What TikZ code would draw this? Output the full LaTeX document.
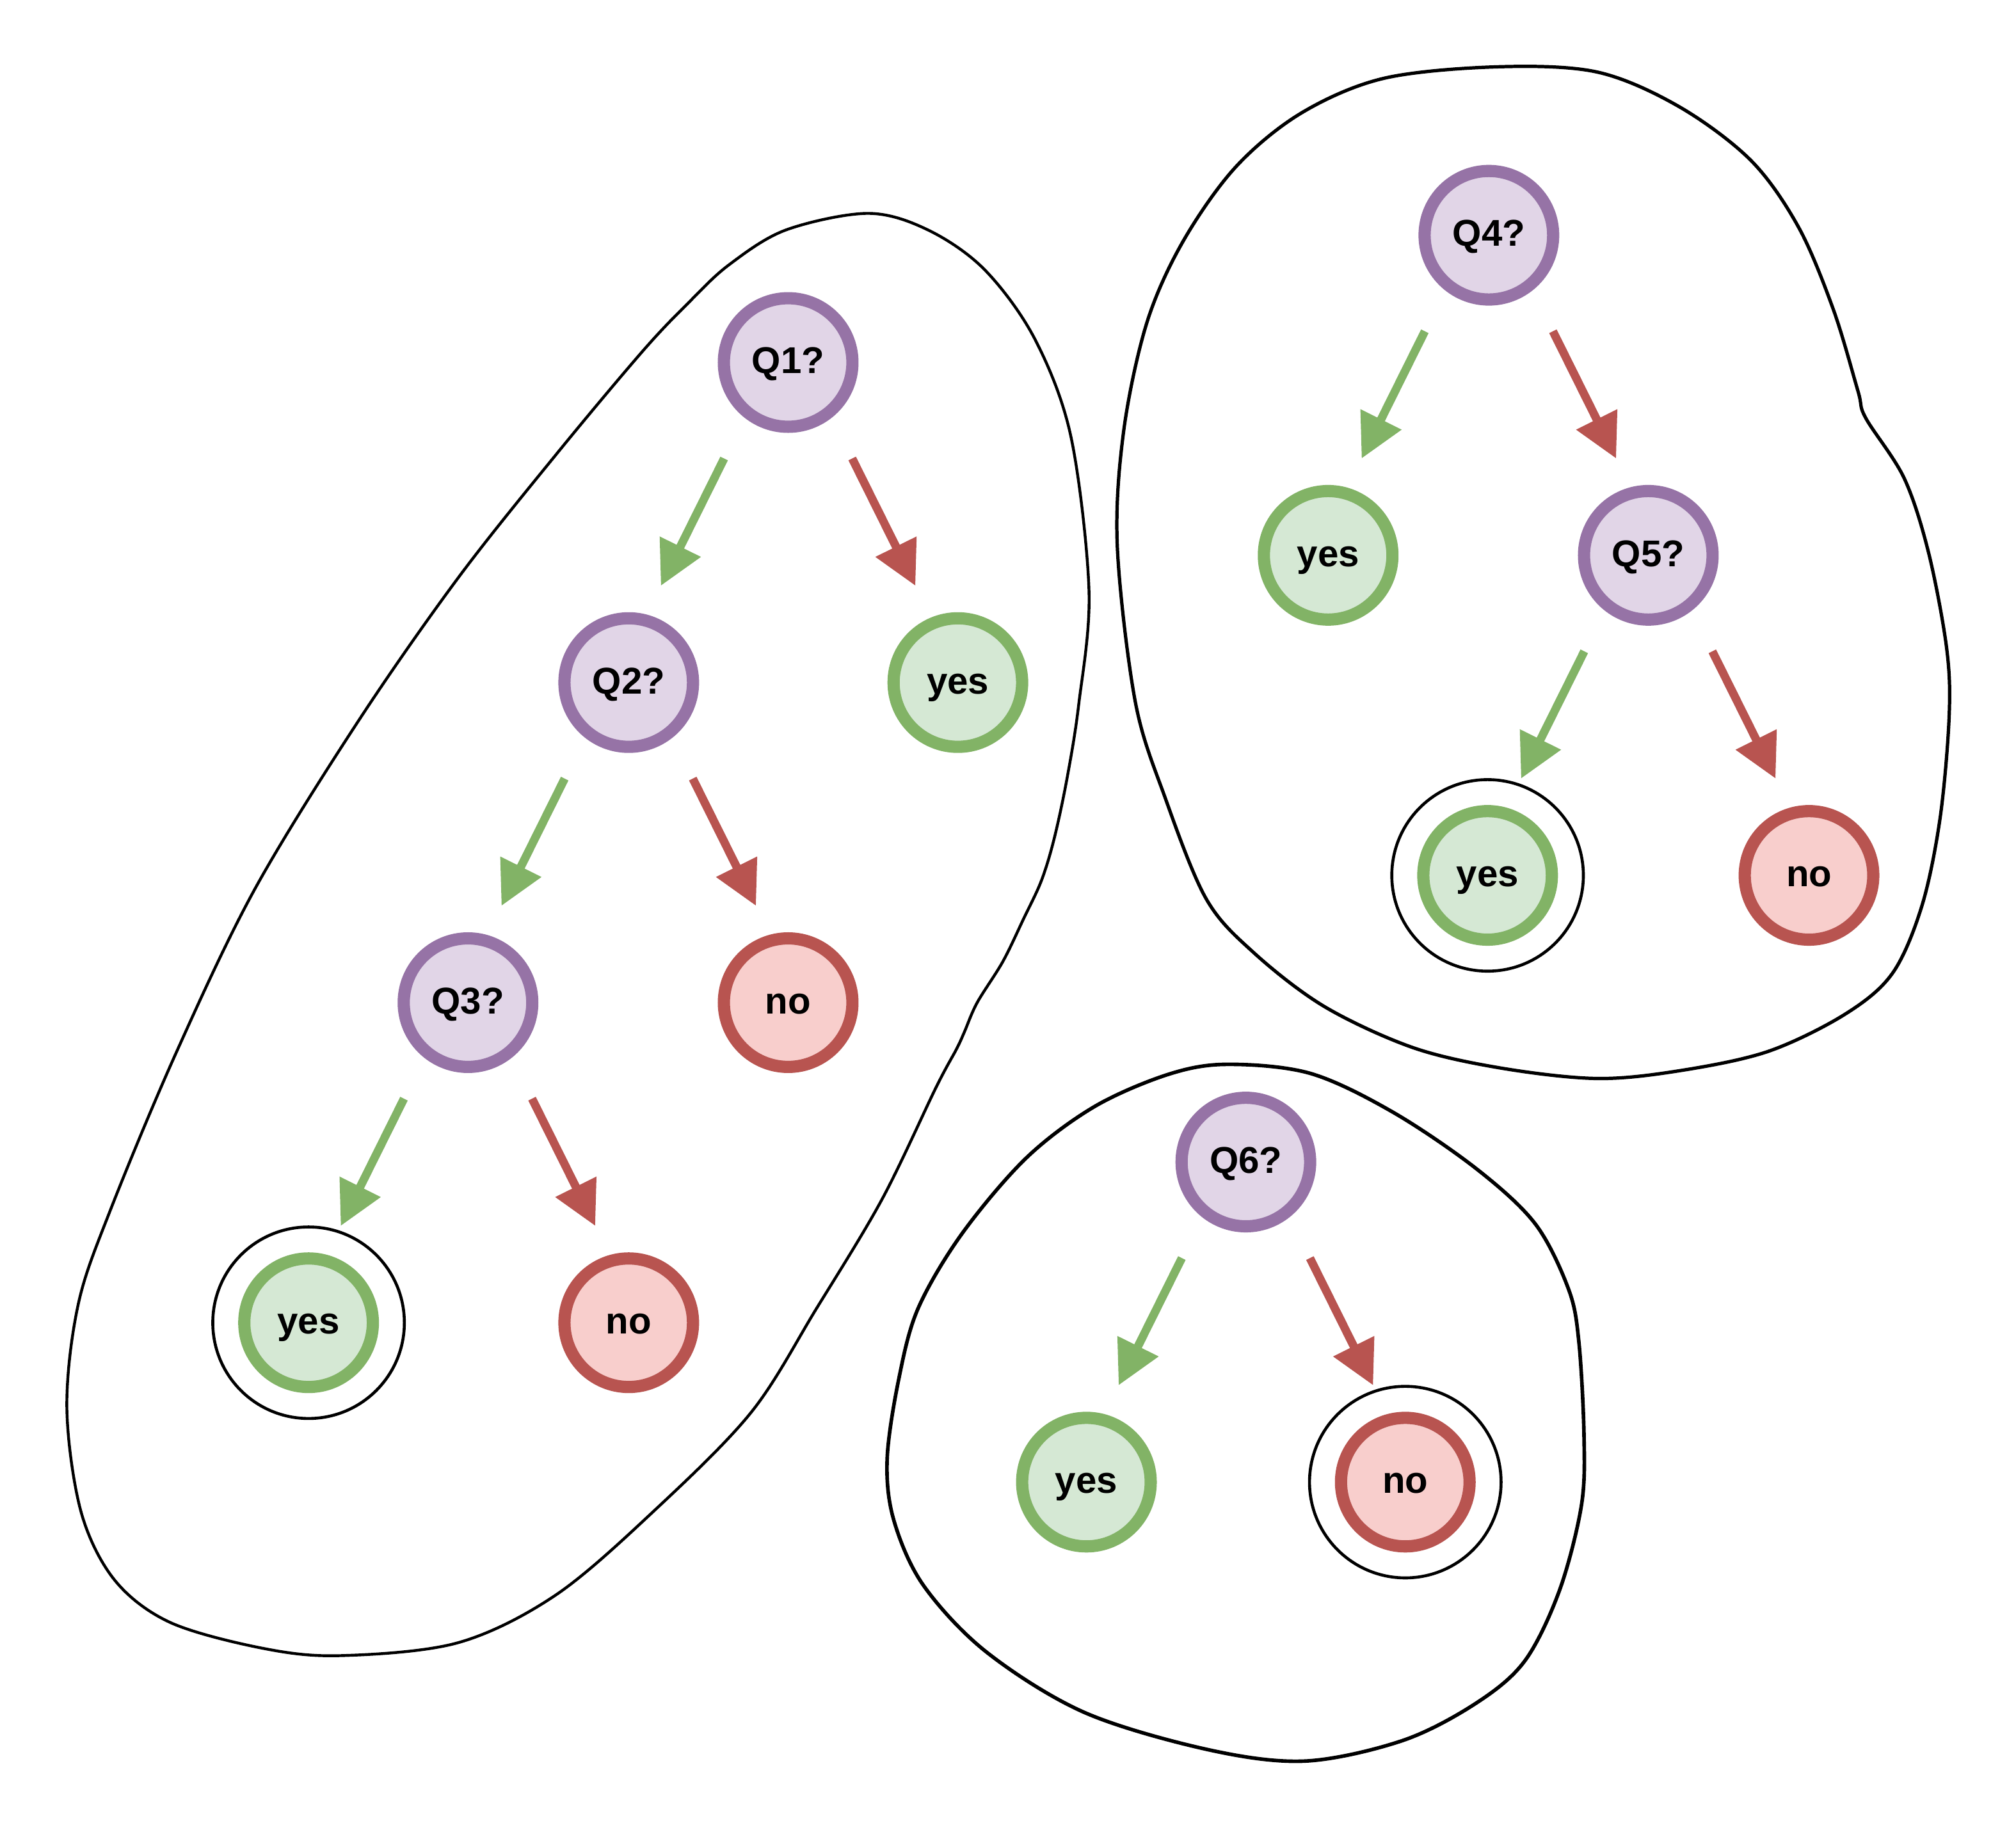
\documentclass[tikz,border=0pt]{standalone}
\usepackage{fontspec}
\setmainfont{Liberation Sans}
\usetikzlibrary{arrows.meta,calc}
\definecolor{qline}{HTML}{9673A6}
\definecolor{qfill}{HTML}{E1D5E7}
\definecolor{yline}{HTML}{82B366}
\definecolor{yfill}{HTML}{D5E8D4}
\definecolor{nline}{HTML}{B85450}
\definecolor{nfill}{HTML}{F8CECC}
\begin{document}
\begin{tikzpicture}[x=1pt,y=-1pt,
  state/.style={circle, minimum size=100pt, inner sep=0pt, line width=9.5pt,
    font=\fontsize{29}{34}\selectfont\bfseries, text height=23pt, text depth=5.8pt},
  qnode/.style={state, draw=qline, fill=qfill},
  ynode/.style={state, draw=yline, fill=yfill},
  nnode/.style={state, draw=nline, fill=nfill},
  ring/.style={circle, draw=black, line width=2.3pt, minimum size=149pt, inner sep=0pt},
  yarr/.style={draw=yline, fill=yline, line width=6.5pt, -{Triangle[length=34pt,width=34pt]}},
  narr/.style={draw=nline, fill=nline, line width=6.5pt, -{Triangle[length=34pt,width=34pt]}},
  blob/.style={draw=black, line join=round}
]
\useasboundingbox (0,0) rectangle (1568,1423.6);

% outlines
\draw[blob, line width=2.2pt] plot[smooth cycle, tension=0.55] coordinates {
 (675,166) (722,179) (766,210) (805,264) (833,340) (847,460) (839,548) (830,605)
 (820,652) (810,685) (796,715) (780,748) (760,780) (750,803) (744,816) (728,846)
 (686,933) (635,1018) (584,1099) (508,1176)
 (432,1241) (356,1278) (264,1288) (203,1282) (132,1262) (89,1229) (63,1176) (52,1095)
 (61,1014) (86,941) (137,819) (198,692) (278,562) (356,450) (433,353) (500,273)
 (536,235) (567,206) (611,179)};
\draw[blob, line width=2.6pt] plot[smooth cycle, tension=0.55] coordinates {
 (1164,52) (1242,56) (1306,83) (1362,125) (1399,177) (1426,241) (1445,304) (1451,325)
 (1481,372) (1500,430) (1514,504) (1516,557) (1509,636) (1495,704) (1472,757) (1435,789)
 (1375,818) (1306,833) (1242,839) (1168,831) (1099,815) (1030,783) (975,741) (938,699)
 (906,620) (883,546) (869,425) (874,335) (892,251) (920,188) (961,130) (1012,88) (1076,61)};
\draw[blob, line width=2.8pt] plot[smooth cycle, tension=0.55] coordinates {
 (954,828) (1019,835) (1083,865) (1148,909) (1194,952) (1220,1003) (1228,1044) (1232,1117)
 (1230,1171) (1213,1237) (1186,1292) (1148,1325) (1091,1354) (1015,1370) (939,1361) (843,1332)
 (767,1285) (718,1233) (695,1182) (690,1135) (699,1073) (714,1018) (748,960) (798,901)
 (851,861) (908,836)};

% nodes
\node[qnode] (Q1) at (613,282) {Q1?};
\node[qnode] (Q2) at (489,531) {Q2?};
\node[ynode] (y1) at (745,531) {yes};
\node[qnode] (Q3) at (364,780) {Q3?};
\node[nnode] (n1) at (613,780) {no};
\node[ring]  (r1) at (240,1029) {};
\node[ynode] (y2) at (240,1029) {yes};
\node[nnode] (n2) at (489,1029) {no};

\node[qnode] (Q4) at (1158,183) {Q4?};
\node[ynode] (y3) at (1033,432) {yes};
\node[qnode] (Q5) at (1282,432) {Q5?};
\node[ring]  (r2) at (1157,681) {};
\node[ynode] (y4) at (1157,681) {yes};
\node[nnode] (n3) at (1407,681) {no};

\node[qnode] (Q6) at (969,904) {Q6?};
\node[ynode] (y5) at (845,1153) {yes};
\node[ring]  (r3) at (1093,1153) {};
\node[nnode] (n4) at (1093,1153) {no};

% arrows
\foreach \p in {Q1,Q2,Q3,Q4,Q5,Q6}{
  \draw[yarr] ($(\p)+(-49.8,74.7)$) -- ($(\p)+(-99,173.7)$);
  \draw[narr] ($(\p)+(49.8,74.7)$) -- ($(\p)+(99,173.7)$);
}
\end{tikzpicture}
\end{document}
